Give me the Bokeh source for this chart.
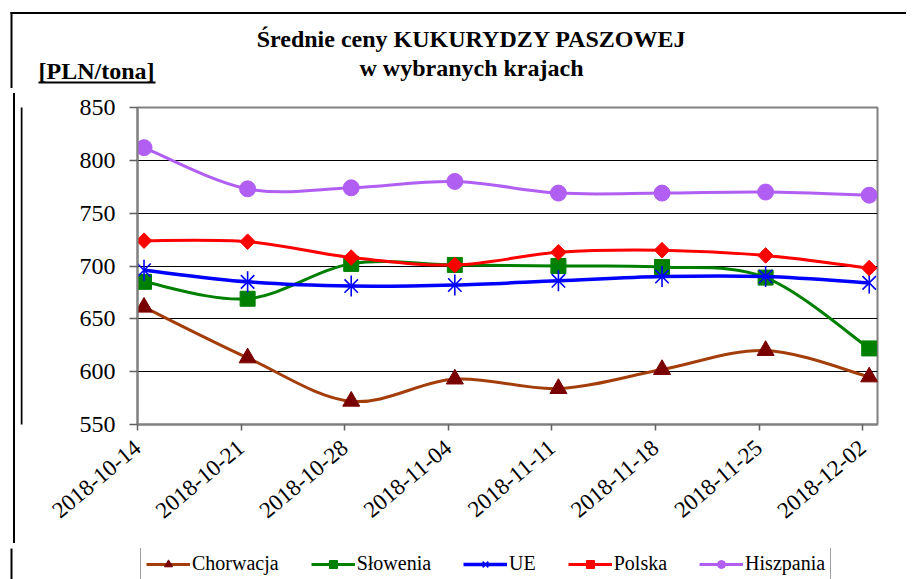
import math
from bokeh.plotting import figure
from bokeh.layouts import column, row
from bokeh.models import (Range1d, FixedTicker, Legend, LegendItem, Label,
                          BoxAnnotation, ColumnDataSource, Div)
from bokeh.embed import file_html
from bokeh.resources import INLINE

# ---- data ----
dates = ["2018-10-14", "2018-10-21", "2018-10-28", "2018-11-04",
         "2018-11-11", "2018-11-18", "2018-11-25", "2018-12-02"]
chorwacja = [661, 613, 572, 593, 584, 602, 620, 595]
slowenia = [685, 669, 702, 701, 700, 699, 689, 622]
ue = [696, 685, 681, 682, 686, 690, 690, 684]
polska = [724, 723, 708, 701, 713, 715, 710, 698]
hiszpania = [812, 773, 774, 780, 769, 769, 770, 767]
y_ticks = [550, 600, 650, 700, 750, 800, 850]

title_1 = "Średnie ceny KUKURYDZY PASZOWEJ"
title_2 = "w wybranych krajach"
unit_label = "[PLN/tona]"

FONT = "Liberation Serif"
W, H = 906, 571
HEAD_H = 88           # header strip height
PAD_W = 10            # left padding block (its right border is the outer line)
STRIP_W = 10          # thin strip also carrying the outer border line
LEG_H = 33            # legend strip height
MAIN_W, MAIN_H = W - PAD_W - STRIP_W, H - HEAD_H - LEG_H
FRAME_TOP, FRAME_H = 107, 317
BORDER_X = 11


def blank_fig(w, h):
    f = figure(width=w, height=h, output_backend="svg", toolbar_location=None,
               x_axis_type=None, y_axis_type=None,
               x_range=Range1d(0, w), y_range=Range1d(h, 0),
               min_border=0, min_border_left=0, min_border_right=0,
               min_border_top=0, min_border_bottom=0)
    f.outline_line_color = None
    f.grid.grid_line_color = None
    f.background_fill_color = "white"
    f.border_fill_color = "white"
    return f


def left_border(f, h, x):
    f.add_layout(BoxAnnotation(left=x - 1, right=x + 1,
                               top=-50, bottom=h + 50, fill_color="black",
                               fill_alpha=1, line_color=None))


# ---- header (titles) ----
head = blank_fig(W, HEAD_H)
for txt, x, y, align in [(title_1, 471, 38, "center"), (title_2, 471, 67, "center"),
                         (unit_label, 38, 70, "left")]:
    head.add_layout(Label(x=x, y=y, text=txt, text_font=FONT, text_color="black",
                          text_font_size="24px", text_font_style="bold",
                          text_align=align, text_baseline="middle"))
head.add_layout(BoxAnnotation(left=38, right=155, top=81, bottom=83,
                              fill_color="black", fill_alpha=1, line_color=None))
head.add_layout(BoxAnnotation(left=BORDER_X - 1, right=W + 50, top=11.5, bottom=13.5,
                              fill_color="black", fill_alpha=1, line_color=None))
head.add_layout(BoxAnnotation(left=BORDER_X - 1, right=BORDER_X + 1, top=11.5,
                              bottom=HEAD_H + 50, fill_color="black", fill_alpha=1,
                              line_color=None))

# ---- left side of the chart row (outer border line) ----
pad = Div(text="", width=PAD_W, height=MAIN_H,
          styles={"border-right": "2px solid black", "height": f"{MAIN_H}px"})
strip = blank_fig(STRIP_W, MAIN_H)
left_border(strip, MAIN_H, BORDER_X - PAD_W)

# ---- main chart ----
p = figure(width=MAIN_W, height=MAIN_H, output_backend="svg", toolbar_location=None,
           x_range=Range1d(0, 7.143), y_range=Range1d(550, 850),
           min_border_left=127 - PAD_W - STRIP_W, min_border_right=39,
           min_border_top=FRAME_TOP - HEAD_H,
           min_border_bottom=MAIN_H - (FRAME_TOP - HEAD_H) - FRAME_H)
p.background_fill_color = "white"
p.border_fill_color = "white"
p.outline_line_color = "#808080"
p.outline_line_width = 2

p.xaxis.ticker = FixedTicker(ticks=list(range(len(dates))))
p.xaxis.major_label_overrides = {i: d for i, d in enumerate(dates)}
p.xaxis.major_label_orientation = 0.70
p.xaxis.major_label_text_font = FONT
p.xaxis.major_label_text_font_size = "23px"
p.xaxis.major_label_text_color = "black"
p.xaxis.major_label_standoff = 14
p.xaxis.major_tick_out = 6
p.xaxis.major_tick_in = 0
p.xaxis.minor_tick_line_color = None
p.xaxis.axis_line_color = "#808080"
p.xaxis.axis_line_width = 2
p.xaxis.major_tick_line_color = "#606060"
p.xaxis.major_tick_line_width = 1.5

p.yaxis.ticker = FixedTicker(ticks=y_ticks)
p.yaxis.major_label_text_font = FONT
p.yaxis.major_label_text_font_size = "24px"
p.yaxis.major_label_text_color = "black"
p.yaxis.major_label_standoff = 14
p.yaxis.major_tick_out = 8
p.yaxis.major_tick_in = 0
p.yaxis.minor_tick_line_color = None
p.yaxis.axis_line_color = "#808080"
p.yaxis.axis_line_width = 2
p.yaxis.major_tick_line_color = "#606060"
p.yaxis.major_tick_line_width = 1.5

p.xgrid.grid_line_color = None
p.ygrid.grid_line_color = "black"
p.ygrid.grid_line_width = 1

X_OFF = 0.063
xs = [i + X_OFF for i in range(len(dates))]


def smooth_source(ys):
    n = len(ys)
    d = dict(x0=[], y0=[], x1=[], y1=[], cx0=[], cy0=[], cx1=[], cy1=[])
    for i in range(n - 1):
        pm = max(i - 1, 0)
        pn = min(i + 2, n - 1)
        d["x0"].append(xs[i]); d["y0"].append(ys[i])
        d["x1"].append(xs[i + 1]); d["y1"].append(ys[i + 1])
        d["cx0"].append(xs[i] + (xs[i + 1] - xs[pm]) / 6)
        d["cy0"].append(ys[i] + (ys[i + 1] - ys[pm]) / 6)
        d["cx1"].append(xs[i + 1] - (xs[pn] - xs[i]) / 6)
        d["cy1"].append(ys[i + 1] - (ys[pn] - ys[i]) / 6)
    return ColumnDataSource(d)


series = [
    ("Chorwacja", chorwacja, "#A33E0A", "#7A0000", [("triangle", 17, 0)]),
    ("Słowenia", slowenia, "#008000", "#008000", [("square", 15, 0)]),
    ("UE", ue, "#0000FF", "#0000FF", [("x", 19, 0), ("dash", 21, math.pi / 2)]),
    ("Polska", polska, "#FF0000", "#FF0000", [("square", 11, math.pi / 4)]),
    ("Hiszpania", hiszpania, "#B15EF2", "#B15EF2", [("circle", 16, 0)]),
]

# ---- legend strip (own figure so the legend is not clipped) ----
leg = blank_fig(W, LEG_H)
left_border(leg, LEG_H, BORDER_X)

items = []
for name, ys, lc, mc, markers in series:
    src = smooth_source(ys)
    lw = 3.5 if name == "UE" else 3
    p.bezier(x0="x0", y0="y0", x1="x1", y1="y1", cx0="cx0", cy0="cy0",
             cx1="cx1", cy1="cy1", source=src, line_color=lc, line_width=lw)
    rs = [leg.line(xs, ys, line_color=lc, line_width=lw, visible=False)]
    for m, s, a in markers:
        if m in ("x", "dash"):
            kw = dict(marker=m, size=s, angle=a, line_color=mc, line_width=1.6,
                      fill_color=None)
        else:
            kw = dict(marker=m, size=s, angle=a, line_color=mc, fill_color=mc,
                      line_width=1)
        p.scatter(xs, ys, **kw)
        rs.append(leg.scatter(xs, ys, visible=False, **kw))
    items.append(LegendItem(label=name, renderers=rs))

legend = Legend(items=items, orientation="horizontal", location=(140, 0),
                label_text_font=FONT, label_text_font_size="20px",
                label_text_color="black", glyph_width=44, glyph_height=20,
                label_standoff=2, spacing=32, padding=5, margin=0,
                border_line_color="#404040", border_line_width=1.5,
                background_fill_color="white")
leg.add_layout(legend, "center")

layout = column(head, row(pad, strip, p, spacing=0), leg, spacing=0)
open("out.html", "w").write(file_html(layout, INLINE))
